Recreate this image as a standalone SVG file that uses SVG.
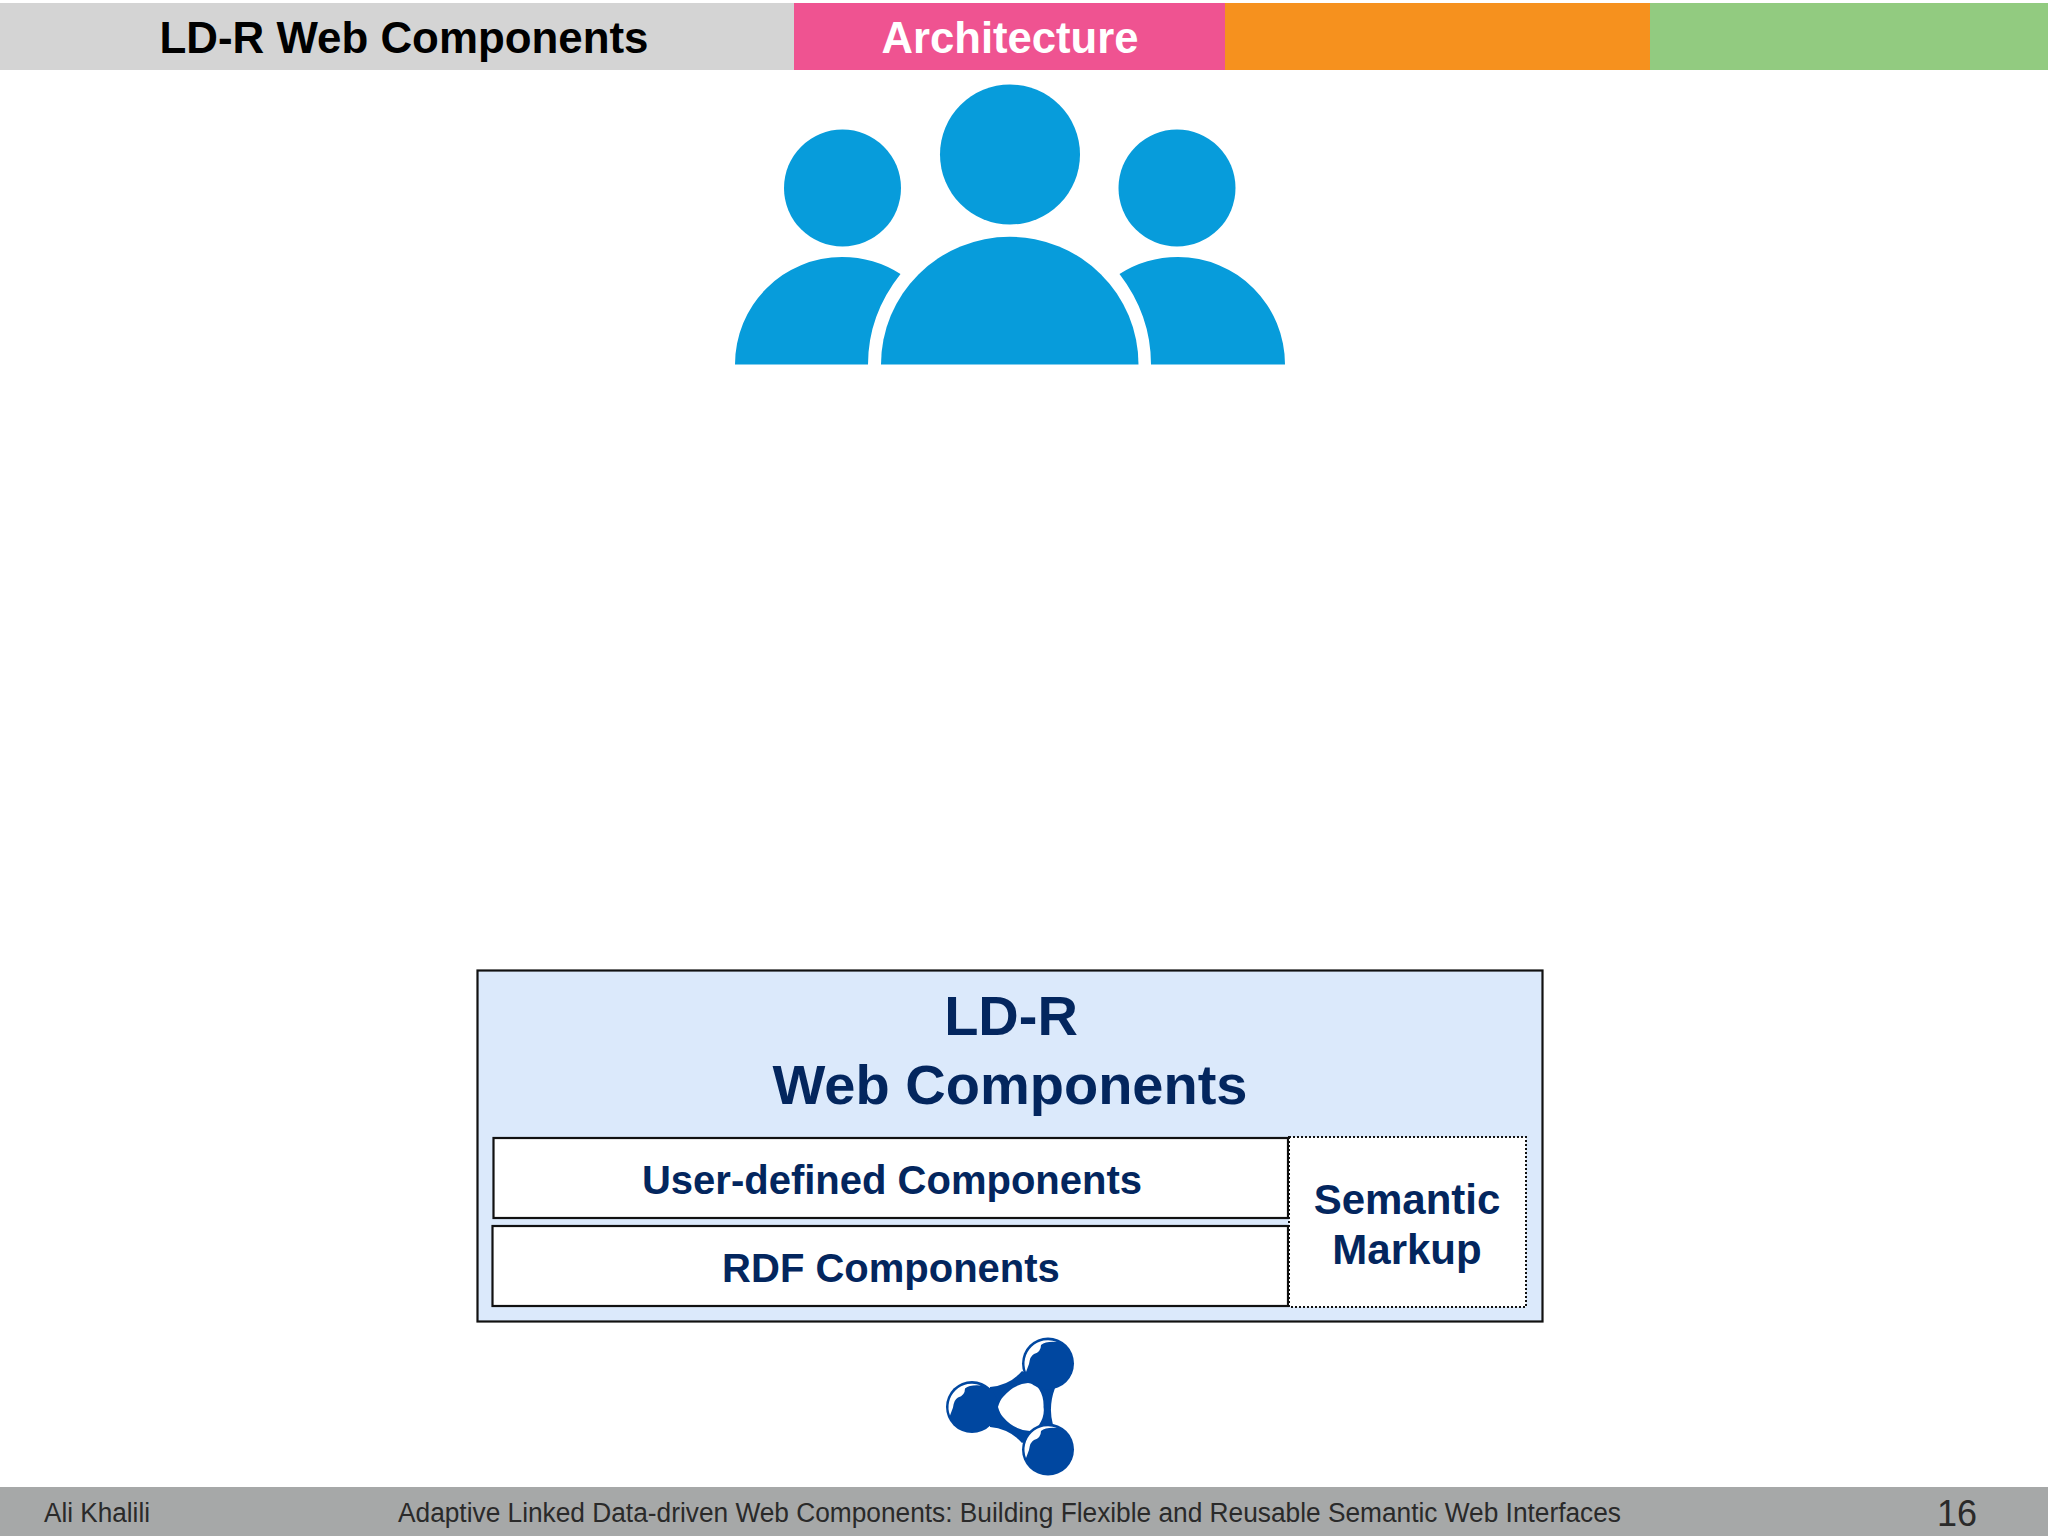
<svg xmlns="http://www.w3.org/2000/svg" width="2048" height="1536" viewBox="0 0 2048 1536">
<style>
text{font-family:"Liberation Sans",Arial,sans-serif}
.b{font-weight:700;text-anchor:middle;fill:#03265e}
.w{fill:#fff;stroke:#111;stroke-width:2.2}
.p{fill:#079cdb}
.l{fill:#0047a0}
.f{font-size:27px;fill:#2a2a2a}
</style>
<defs>
<path id="shine" fill="#fff" d="M1026 1372A23.500 23.500 0 0 1 1057 1342Q1046 1341 1041 1345Q1041 1352 1034 1354Q1030 1356 1029 1364Z"/>
</defs>
<rect width="2048" height="1536" fill="#fff"/>
<g id="header">
<rect y="3" width="794" height="67" fill="#d4d4d4"/>
<rect x="794" y="3" width="431" height="67" fill="#ef5391"/>
<rect x="1225" y="3" width="425" height="67" fill="#f6911e"/>
<rect x="1650" y="3" width="398" height="67" fill="#92cb80"/>
<text x="404" y="52.500" font-size="44" font-weight="700" text-anchor="middle" fill="#000" textLength="489" lengthAdjust="spacingAndGlyphs">LD-R Web Components</text>
<text x="1010" y="52.500" font-size="44" font-weight="700" text-anchor="middle" fill="#fff" textLength="257" lengthAdjust="spacingAndGlyphs">Architecture</text>
</g>
<g id="users">
<ellipse class="p" cx="1010" cy="154.500" rx="70" ry="70"/>
<ellipse class="p" cx="842.500" cy="188" rx="58.500" ry="58.500"/>
<ellipse class="p" cx="1177" cy="188" rx="58.500" ry="58.500"/>
<path class="p" d="M881 364.500A128.500 127.500 0 0 1 1138.500 364.500Z"/>
<path class="p" d="M735 364.500A107 107.500 0 0 1 842 257Q874 257 900.500 274Q868 315 868 364.500Z"/>
<path class="p" d="M1285 364.500A107 107.500 0 0 0 1178 257Q1146 257 1119.500 274Q1151 315 1151 364.500Z"/>
</g>
<g id="ldr">
<rect x="477.500" y="970.500" width="1065" height="351" fill="#dbe9fb" stroke="#111" stroke-width="2.200"/>
<text class="b" x="1011" y="1035" font-size="56">LD-R</text>
<text class="b" x="1010" y="1103.500" font-size="56">Web Components</text>
</g>
<g id="user-defined">
<rect class="w" x="493.500" y="1138" width="794.500" height="80"/>
<text class="b" x="892" y="1194" font-size="40">User-defined Components</text>
</g>
<g id="rdf">
<rect class="w" x="492.500" y="1226" width="795.500" height="80"/>
<text class="b" x="891" y="1282" font-size="40">RDF Components</text>
</g>
<g id="semantic">
<rect x="1289" y="1137" width="237" height="170" fill="#fff" stroke="#111" stroke-width="2" stroke-dasharray="2 2"/>
<text class="b" x="1407" y="1214" font-size="42">Semantic</text>
<text class="b" x="1407" y="1264" font-size="42">Markup</text>
</g>
<g id="logo">
<path class="l" fill-rule="evenodd" d="M990 1387Q1010 1385 1022 1371L1055 1388Q1048 1407 1053 1425L1022 1443Q1010 1429 990 1427ZM998 1407Q1000 1414 1003 1417Q1014 1430 1030 1431Q1036 1431 1039 1425Q1045 1416 1043.500 1407Q1044 1397 1039 1389Q1036 1384 1028 1383Q1014 1384 1003 1397Q1000 1400 998 1407Z"/>
<circle class="l" cx="1048" cy="1363.500" r="26"/>
<circle class="l" cx="972" cy="1407" r="26"/>
<circle class="l" cx="1048" cy="1449.500" r="26"/>
<use href="#shine"/>
<use href="#shine" x="-76" y="43.500"/>
<use href="#shine" x="0" y="86"/>
</g>
<g id="footer">
<rect y="1487" width="2048" height="49" fill="#a6a8a8"/>
<text class="f" x="44" y="1522" textLength="106" lengthAdjust="spacingAndGlyphs">Ali Khalili</text>
<text class="f" x="398" y="1522" textLength="1223" lengthAdjust="spacingAndGlyphs">Adaptive Linked Data-driven Web Components: Building Flexible and Reusable Semantic Web Interfaces</text>
<text x="1937" y="1526" font-size="36" fill="#2a2a2a">16</text>
</g>
</svg>
